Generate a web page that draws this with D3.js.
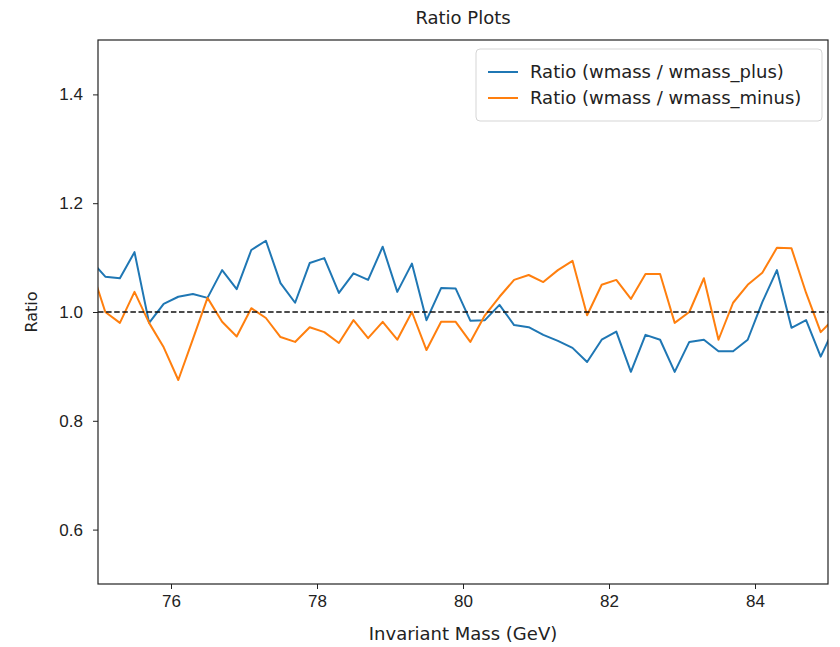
<!DOCTYPE html>
<html>
<head>
<meta charset="utf-8">
<script src="https://cdn.jsdelivr.net/npm/d3@7"></script>
<style>
    body { margin: 0; background: #fff; }
    svg { font-family: "DejaVu Sans", sans-serif; }
    .tick text { font-size: 17px; fill: #222; }
    .tick line { stroke: #222; }
    .domain { stroke: #222; }
</style>
</head>
<body>
<div id="chart"></div>
<script>
// Bin centres (GeV), 0.2 GeV wide; one extra bin each side is clipped by the axes.
const mass = d3.range(0, 52).map(i => +(74.9 + i * 0.2).toFixed(1));

const ratioPlus = [
    1.095, 1.065, 1.062, 1.110, 0.980, 1.015, 1.028, 1.033, 1.026, 1.077,
    1.042, 1.114, 1.131, 1.053, 1.017, 1.090, 1.099, 1.035, 1.071, 1.059,
    1.120, 1.037, 1.089, 0.985, 1.044, 1.043, 0.984, 0.985, 1.013, 0.976,
    0.972, 0.958, 0.947, 0.934, 0.908, 0.949, 0.964, 0.890, 0.958, 0.949,
    0.890, 0.945, 0.949, 0.928, 0.928, 0.949, 1.018, 1.077, 0.971, 0.985,
    0.918, 0.975
];

const ratioMinus = [
    1.083, 1.000, 0.980, 1.037, 0.980, 0.935, 0.875, 0.950, 1.026, 0.982,
    0.955, 1.007, 0.989, 0.954, 0.945, 0.972, 0.963, 0.943, 0.985, 0.952,
    0.982, 0.949, 1.000, 0.930, 0.982, 0.982, 0.945, 0.994, 1.028, 1.059,
    1.068, 1.055, 1.077, 1.094, 0.994, 1.050, 1.059, 1.024, 1.070, 1.070,
    0.980, 1.000, 1.062, 0.949, 1.017, 1.050, 1.072, 1.118, 1.117, 1.035,
    0.963, 0.990
];

const xTicks = [76, 78, 80, 82, 84];
const yTicks = [0.6, 0.8, 1.0, 1.2, 1.4];

const series = [
    { label: "Ratio (wmass / wmass_plus)", values: ratioPlus, color: "#1f77b4" },
    { label: "Ratio (wmass / wmass_minus)", values: ratioMinus, color: "#ff7f0e" }
];

const width = 840;
const height = 647;
const margin = { top: 40, right: 12, bottom: 63, left: 98 };

const x = d3.scaleLinear()
    .domain([75, 85])
    .range([margin.left, width - margin.right]);

const y = d3.scaleLinear()
    .domain([0.5, 1.5])
    .range([height - margin.bottom, margin.top]);

const svg = d3.select("#chart")
    .append("svg")
    .attr("width", width)
    .attr("height", height);

svg.append("defs").append("clipPath")
    .attr("id", "plot-clip")
    .append("rect")
    .attr("x", margin.left)
    .attr("y", margin.top)
    .attr("width", width - margin.left - margin.right)
    .attr("height", height - margin.top - margin.bottom);

const line = d3.line()
    .x((_, i) => x(mass[i]))
    .y(d => y(d));

const plot = svg.append("g").attr("clip-path", "url(#plot-clip)");

plot.selectAll("path.series")
    .data(series)
    .join("path")
    .attr("class", "series")
    .attr("fill", "none")
    .attr("stroke", d => d.color)
    .attr("stroke-width", 2)
    .attr("stroke-linejoin", "round")
    .attr("d", d => line(d.values));

plot.append("line")
    .attr("x1", margin.left)
    .attr("x2", width - margin.right)
    .attr("y1", y(1))
    .attr("y2", y(1))
    .attr("stroke", "#111")
    .attr("stroke-width", 1.5)
    .attr("stroke-dasharray", "5.5,2.6");

svg.append("g")
    .attr("transform", `translate(0,${height - margin.bottom})`)
    .call(d3.axisBottom(x).tickValues(xTicks).tickFormat(d3.format("d")).tickSize(5).tickPadding(6))
    .call(g => g.select(".domain").remove());

svg.append("g")
    .attr("transform", `translate(${margin.left},0)`)
    .call(d3.axisLeft(y).tickValues(yTicks).tickFormat(d3.format(".1f")).tickSize(5).tickPadding(10))
    .call(g => g.select(".domain").remove());

svg.append("rect")
    .attr("x", margin.left)
    .attr("y", margin.top)
    .attr("width", width - margin.left - margin.right)
    .attr("height", height - margin.top - margin.bottom)
    .attr("fill", "none")
    .attr("stroke", "#222")
    .attr("stroke-width", 1.2);

svg.append("text")
    .attr("x", (margin.left + width - margin.right) / 2)
    .attr("y", 24)
    .attr("text-anchor", "middle")
    .attr("font-size", 18)
    .attr("fill", "#222")
    .text("Ratio Plots");

svg.append("text")
    .attr("x", (margin.left + width - margin.right) / 2)
    .attr("y", 640)
    .attr("text-anchor", "middle")
    .attr("font-size", 18)
    .attr("fill", "#222")
    .text("Invariant Mass (GeV)");

svg.append("text")
    .attr("transform", `translate(37,${(margin.top + height - margin.bottom) / 2}) rotate(-90)`)
    .attr("text-anchor", "middle")
    .attr("font-size", 16)
    .attr("fill", "#222")
    .text("Ratio");

// legend, upper right
const legend = svg.append("g").attr("transform", "translate(476,49)");

legend.append("rect")
    .attr("width", 346)
    .attr("height", 72)
    .attr("rx", 4)
    .attr("fill", "#fff")
    .attr("fill-opacity", 0.8)
    .attr("stroke", "#d5d5d5");

const items = legend.selectAll("g.item")
    .data(series)
    .join("g")
    .attr("class", "item")
    .attr("transform", (_, i) => `translate(0,${23 + i * 26})`);

items.append("line")
    .attr("x1", 12)
    .attr("x2", 42)
    .attr("stroke", d => d.color)
    .attr("stroke-width", 2);

items.append("text")
    .attr("x", 54)
    .attr("dy", "0.35em")
    .attr("font-size", 18)
    .attr("fill", "#222")
    .text(d => d.label);
</script>
</body>
</html>
